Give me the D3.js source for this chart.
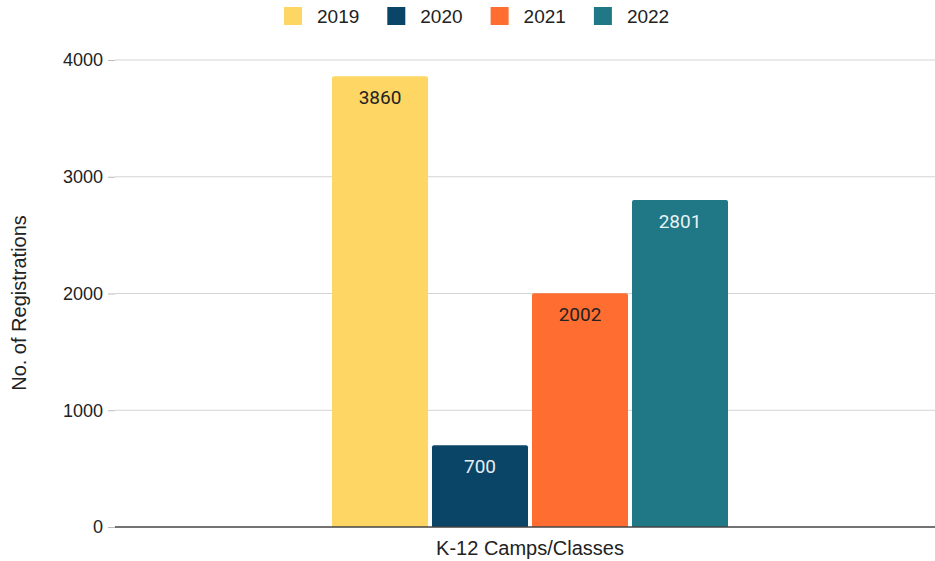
<!DOCTYPE html>
<html>
<head>
<meta charset="utf-8">
<script src="https://cdn.jsdelivr.net/npm/d3@7"></script>
<style>
  body { margin: 0; background: #fff; }
  svg { display: block; font-family: "Liberation Sans", Arial, sans-serif; }
</style>
</head>
<body>
<svg id="chart"></svg>
<script>
const categories = ["K-12 Camps/Classes"];
const years = ["2019", "2020", "2021", "2022"];
const registrations = [3860, 700, 2002, 2801];
const yTicks = [0, 1000, 2000, 3000, 4000];
const colors = ["#fdd663", "#0a4466", "#ff6d31", "#207786"];
const labelColors = ["#222", "#e6eef2", "#222", "#e6f2f4"];

const width = 935, height = 561;
const margin = {top: 60, right: -10, bottom: 34, left: 115};

const svg = d3.select("#chart")
    .attr("width", width)
    .attr("height", height);

const x = d3.scaleBand()
    .domain(categories)
    .range([margin.left, width - margin.right])
    .paddingInner(0)
    .paddingOuter(0.5375);

const xYear = d3.scaleBand()
    .domain(years)
    .range([0, x.bandwidth()])
    .paddingInner(0.04)
    .paddingOuter(0.02);

const y = d3.scaleLinear()
    .domain([0, 4000])
    .range([height - margin.bottom, margin.top]);

// grid lines
svg.append("g")
    .selectAll("line")
    .data(yTicks.filter(d => d > 0))
    .enter().append("line")
    .attr("x1", margin.left)
    .attr("x2", width)
    .attr("y1", d => y(d))
    .attr("y2", d => y(d))
    .attr("stroke", "#d4d4d4")
    .attr("stroke-width", 1);

// y axis
const yAxis = svg.append("g")
    .attr("transform", `translate(${margin.left}, 0)`)
    .call(d3.axisLeft(y).tickValues(yTicks).tickFormat(d3.format("d")).tickSize(7).tickPadding(5));
yAxis.select(".domain").remove();
yAxis.selectAll(".tick line").attr("stroke", "#bbb");
yAxis.selectAll(".tick text")
    .attr("font-size", 18)
    .attr("font-family", "Liberation Sans, Arial, sans-serif")
    .attr("fill", "#222");

// bars
const group = svg.append("g")
    .attr("transform", `translate(${x(categories[0])}, 0)`);

const data = years.map((yr, i) => ({year: yr, value: registrations[i], i: i}));

group.selectAll("path.bar")
    .data(data)
    .enter().append("path")
    .attr("class", "bar")
    .attr("fill", d => colors[d.i])
    .attr("d", d => {
        const x0 = xYear(d.year), w = xYear.bandwidth();
        const y0 = y(d.value), y1 = y(0), r = 2;
        return `M${x0},${y1}V${y0 + r}Q${x0},${y0} ${x0 + r},${y0}H${x0 + w - r}Q${x0 + w},${y0} ${x0 + w},${y0 + r}V${y1}Z`;
    });

group.selectAll("text.lbl")
    .data(data)
    .enter().append("text")
    .attr("class", "lbl")
    .attr("x", d => xYear(d.year) + xYear.bandwidth() / 2)
    .attr("y", d => y(d.value) + 28)
    .attr("text-anchor", "middle")
    .attr("font-family", "Roboto, sans-serif")
    .attr("font-size", 19)
    .attr("fill", d => labelColors[d.i])
    .text(d => d.value);

// baseline
svg.append("line")
    .attr("x1", margin.left)
    .attr("x2", width)
    .attr("y1", y(0))
    .attr("y2", y(0))
    .attr("stroke", "#444")
    .attr("stroke-width", 1.3);

// x axis label
svg.append("text")
    .attr("x", x(categories[0]) + x.bandwidth() / 2)
    .attr("y", 555)
    .attr("text-anchor", "middle")
    .attr("font-size", 20)
    .attr("fill", "#222")
    .text(categories[0]);

// y axis title
svg.append("text")
    .attr("transform", `translate(26, ${303}) rotate(-90)`)
    .attr("text-anchor", "middle")
    .attr("font-size", 20)
    .attr("fill", "#222")
    .text("No. of Registrations");

// legend
const legend = svg.append("g")
    .selectAll("g")
    .data(years)
    .enter().append("g")
    .attr("transform", (d, i) => `translate(${284 + i * 103.3}, 7)`);
legend.append("rect")
    .attr("width", 18)
    .attr("height", 18)
    .attr("fill", (d, i) => colors[i]);
legend.append("text")
    .attr("x", 33)
    .attr("y", 9.5)
    .attr("dy", "0.35em")
    .attr("font-size", 19)
    .attr("fill", "#222")
    .text(d => d);
</script>
</body>
</html>
